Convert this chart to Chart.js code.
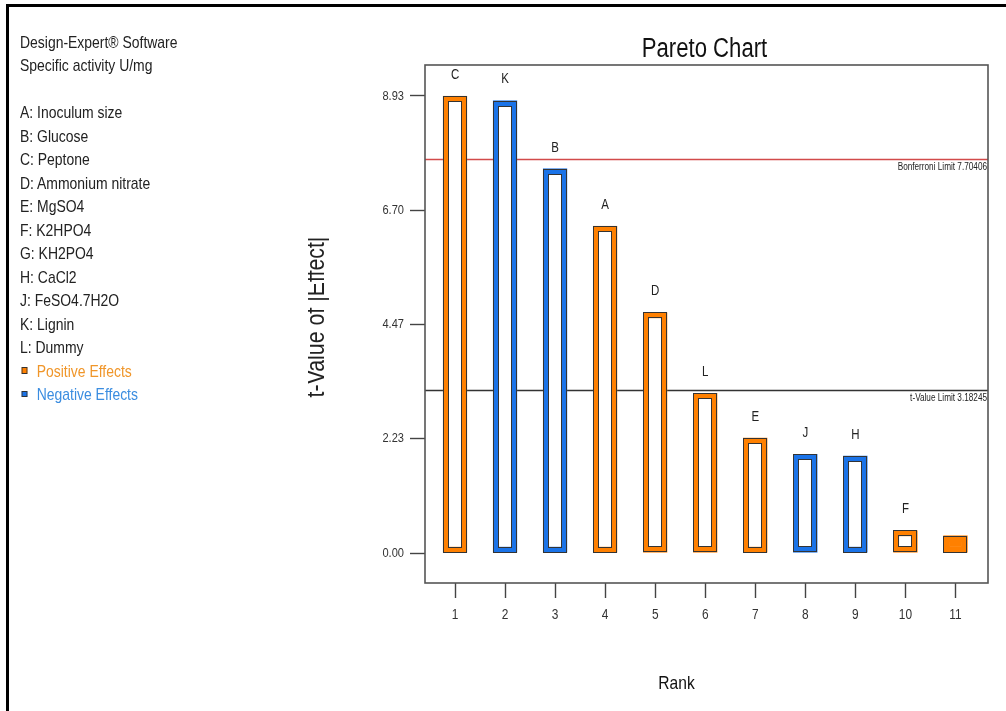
<!DOCTYPE html>
<html>
<head>
<meta charset="utf-8">
<script src="https://cdn.jsdelivr.net/npm/chart.js@4.4.1/dist/chart.umd.min.js"></script>
<style>
  html, body { margin: 0; padding: 0; background: #fff; }
  #wrap { position: relative; width: 1006px; height: 711px; overflow: hidden; background: #fff; }
  #frame { position: absolute; left: 6px; top: 4px; right: 0; bottom: -10px; border-top: 3px solid #000; border-left: 3px solid #000; }
  canvas { position: absolute; left: 0; top: 0; }
  #legend { position: absolute; left: 20px; top: 31px; font-family: 'Liberation Sans', Arial, sans-serif; font-size: 17px; line-height: 23.47px; color: #222; white-space: nowrap; transform: scaleX(0.82); transform-origin: 0 0; }
  #legend .sq { display: inline-block; box-sizing: border-box; width: 6.6px; height: 6.5px; border: 1px solid #333; margin: 0 11.4px 3px 2.4px; vertical-align: middle; }
</style>
</head>
<body>
<div id="wrap">
  <canvas id="c" width="1006" height="711"></canvas>
  <div id="frame"></div>
  <div id="legend"></div>
</div>
<script>
// ---- data ----
const ranks = [1, 2, 3, 4, 5, 6, 7, 8, 9, 10, 11];
const barLabels = ['C', 'K', 'B', 'A', 'D', 'L', 'E', 'J', 'H', 'F', ''];
const tValues = [8.93, 8.84, 7.51, 6.39, 4.70, 3.12, 2.25, 1.93, 1.90, 0.44, 0.34];
const effectSigns = ['+', '-', '-', '+', '+', '+', '+', '-', '-', '+', '+'];
const yTickValues = [0, 2.2325, 4.465, 6.6975, 8.93];
const yTickLabels = ['0.00', '2.23', '4.47', '6.70', '8.93'];
const bonferroniLimit = 7.70406;
const tValueLimit = 3.18245;
const headerLines = ['Design-Expert® Software', 'Specific activity U/mg'];
const factorNames = ['A: Inoculum size', 'B: Glucose', 'C: Peptone', 'D: Ammonium nitrate', 'E: MgSO4',
  'F: K2HPO4', 'G: KH2PO4', 'H: CaCl2', 'J: FeSO4.7H2O', 'K: Lignin', 'L: Dummy'];
const legendEntries = ['Positive Effects', 'Negative Effects'];

// ---- styles ----
const FONT = "'Liberation Sans', Arial, sans-serif";
const NARROW = 0.82;           // condensed look of the original typeface
const ORANGE = '#ff8000';
const BLUE = '#1a73e8';
const EDGE = '#333333';

// legend (HTML text)
const lg = document.getElementById('legend');
let html = headerLines.map(t => '<div>' + t + '</div>').join('') + '<div>&nbsp;</div>';
html += factorNames.map(t => '<div>' + t + '</div>').join('');
html += '<div style="color:#f0962a"><span class="sq" style="background:' + ORANGE + '"></span>' + legendEntries[0] + '</div>';
html += '<div style="color:#3b8de0"><span class="sq" style="background:' + BLUE + '"></span>' + legendEntries[1] + '</div>';
lg.innerHTML = html;

// condensed text rendering on the canvas
const canvas = document.getElementById('c');
const ctx2d = canvas.getContext('2d');
const origFill = ctx2d.fillText.bind(ctx2d);
ctx2d.fillText = function (text, x, y, maxW) {
  this.save();
  this.translate(x, y);
  this.scale(NARROW, 1);
  if (maxW === undefined) origFill(text, 0, 0); else origFill(text, 0, 0, maxW / NARROW);
  this.restore();
};

const colorFor = i => effectSigns[i] === '+' ? ORANGE : BLUE;
const BORDER = 6;

const decorPlugin = {
  id: 'decor',
  beforeDatasetsDraw(chart) {
    const ctx = chart.ctx, a = chart.chartArea, y = chart.scales.y;
    ctx.save();
    const yb = Math.round(y.getPixelForValue(bonferroniLimit)) + 0.5;
    ctx.strokeStyle = '#d24a4a'; ctx.lineWidth = 1.3;
    ctx.beginPath(); ctx.moveTo(a.left, yb); ctx.lineTo(a.right, yb); ctx.stroke();
    const yt = Math.round(y.getPixelForValue(tValueLimit)) + 0.5;
    ctx.strokeStyle = '#333'; ctx.lineWidth = 1.3;
    ctx.beginPath(); ctx.moveTo(a.left, yt); ctx.lineTo(a.right, yt); ctx.stroke();
    ctx.fillStyle = '#222';
    ctx.font = '10px ' + FONT;
    ctx.textAlign = 'right'; ctx.textBaseline = 'middle';
    ctx.fillText('Bonferroni Limit ' + bonferroniLimit.toFixed(5), a.right - 1, yb + 8);
    ctx.fillText('t-Value Limit ' + tValueLimit.toFixed(5), a.right - 1, yt + 8);
    ctx.restore();
  },
  afterDatasetsDraw(chart) {
    const ctx = chart.ctx, a = chart.chartArea;
    const meta = chart.getDatasetMeta(0);
    ctx.save();
    ctx.strokeStyle = EDGE; ctx.lineWidth = 1;
    meta.data.forEach((bar, i) => {
      const p = bar.getProps(['x', 'y', 'base', 'width'], true);
      const l = p.x - p.width / 2, r = p.x + p.width / 2, t = p.y, b = p.base;
      ctx.strokeRect(Math.round(l) + 0.5, Math.round(t) + 0.5, Math.round(r - l) - 1, Math.round(b - t) - 1);
      const ih = (b - t) - 2 * BORDER;
      if (ih > 0 && !(tValues[i] < 0.4)) {
        ctx.strokeRect(Math.round(l + BORDER) - 0.5, Math.round(t + BORDER) - 0.5, Math.round(r - l - 2 * BORDER) + 1, Math.round(ih) + 1);
      }
      ctx.fillStyle = '#222';
      ctx.font = '14px ' + FONT;
      ctx.textAlign = 'center'; ctx.textBaseline = 'middle';
      if (barLabels[i]) ctx.fillText(barLabels[i], p.x, t - 21);
    });
    // plot frame
    ctx.strokeStyle = '#555'; ctx.lineWidth = 1.6;
    ctx.strokeRect(a.left, a.top, a.right - a.left, a.bottom - a.top);
    ctx.restore();
  },
  afterDraw(chart) {
    const ctx = chart.ctx, a = chart.chartArea;
    ctx.save();
    ctx.fillStyle = '#111';
    ctx.textAlign = 'center'; ctx.textBaseline = 'middle';
    ctx.font = '27px ' + FONT;
    ctx.fillText('Pareto Chart', (a.left + a.right) / 2 - 2, 50);
    ctx.font = '19px ' + FONT;
    ctx.fillText('Rank', (a.left + a.right) / 2 - 30, 684);
    ctx.restore();
    // y-axis title, partly clipped at its top edge as in the original
    ctx.save();
    ctx.beginPath();
    ctx.rect(a.left - 117, 0, chart.width, chart.height);
    ctx.clip();
    ctx.translate(a.left - 108.5, (a.top + a.bottom) / 2 - 7);
    ctx.rotate(-Math.PI / 2);
    ctx.fillStyle = '#222';
    ctx.textAlign = 'center'; ctx.textBaseline = 'middle';
    ctx.font = '26px ' + FONT;
    ctx.fillText('t-Value of |Effect|', 0, 0);
    ctx.restore();
  }
};

new Chart(canvas, {
  type: 'bar',
  data: {
    datasets: [{
      data: ranks.map((r, i) => ({ x: r, y: tValues[i] })),
      backgroundColor: ctx => (tValues[ctx.dataIndex] < 0.4 ? colorFor(ctx.dataIndex) : '#ffffff'),
      borderColor: ctx => colorFor(ctx.dataIndex),
      borderWidth: BORDER,
      borderSkipped: false,
      barThickness: 24
    }]
  },
  options: {
    responsive: false,
    animation: false,
    devicePixelRatio: 1,
    layout: { padding: { left: 300, right: 18, top: 65, bottom: 0 } },
    plugins: { legend: { display: false }, tooltip: { enabled: false }, title: { display: false } },
    scales: {
      x: {
        type: 'linear', min: 0.4, max: 11.65, offset: false,
        afterBuildTicks: s => { s.ticks = ranks.map(v => ({ value: v })); },
        afterFit: s => { s.height = 128; },
        grid: { offset: false, drawOnChartArea: false, tickLength: 15, color: '#444', tickWidth: 1.4 },
        border: { display: false },
        ticks: { color: '#333', padding: 8, font: { family: FONT, size: 14.5 }, maxRotation: 0 }
      },
      y: {
        min: -0.586, max: 9.535,
        afterBuildTicks: s => { s.ticks = yTickValues.map(v => ({ value: v })); },
        afterFit: s => { s.width = 125; },
        grid: { drawOnChartArea: false, tickLength: 15, color: '#444', tickWidth: 1.4 },
        border: { display: false },
        ticks: {
          color: '#333', padding: 6, font: { family: FONT, size: 13.5 },
          callback: (v, i) => yTickLabels[i]
        },
        title: { display: false }
      }
    }
  },
  plugins: [decorPlugin]
});
</script>
</body>
</html>
